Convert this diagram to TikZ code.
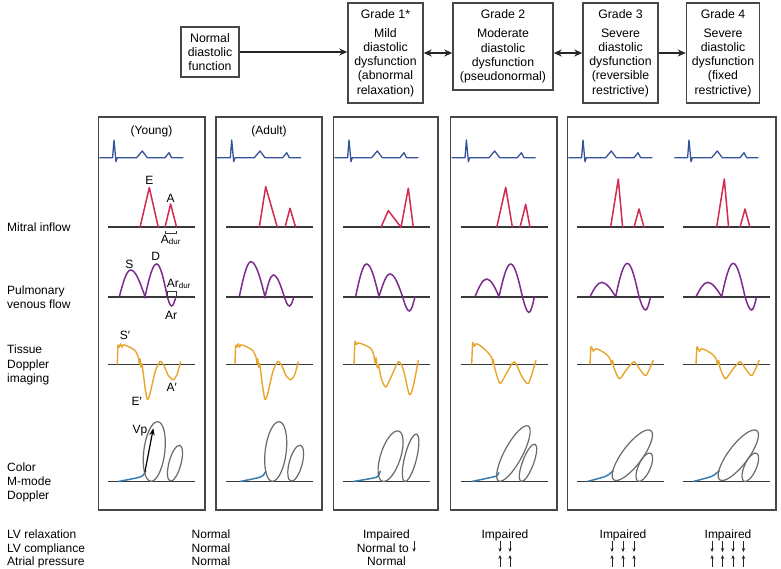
\documentclass[tikz,border=0pt]{standalone}
\usepackage{fontspec}
\setmainfont{Liberation Sans}
\usetikzlibrary{arrows.meta}
\definecolor{ecgc}{HTML}{34539A}
\definecolor{mitc}{HTML}{D42A4F}
\definecolor{pvc}{HTML}{7B2D8B}
\definecolor{tdic}{HTML}{E8A72C}
\definecolor{ellc}{HTML}{6A6A6A}
\definecolor{bluec}{HTML}{3A7DB0}
\definecolor{basec}{HTML}{383838}
\definecolor{framec}{HTML}{474747}
\newcommand\bxf{\fontsize{12.3}{14.3}\selectfont}
\newcommand\lbf{\fontsize{12}{14.3}\selectfont}
\begin{document}
\begin{tikzpicture}[x=1pt,y=-1pt,
  boxfr/.style={draw=framec, line width=1.5pt, inner sep=0pt, align=center, font=\bxf},
  panelfr/.style={draw=framec, line width=1.3pt},
  base/.style={draw=basec, line width=1.8pt},
  ecg/.style={draw=ecgc, line width=1.3pt, line join=round},
  mitral/.style={draw=mitc, line width=1.5pt, line join=round},
  pv/.style={draw=pvc, line width=1.5pt},
  tdi/.style={draw=tdic, line width=1.4pt, line join=round},
  mm/.style={draw=ellc, line width=1.2pt},
  mmblue/.style={draw=bluec, line width=1.5pt},
  lab/.style={font=\lbf, inner sep=0pt},
  side/.style={font=\lbf, inner sep=0pt, align=left, anchor=west},
  tb/.style={font=\lbf, inner sep=0pt, anchor=base},
  brk/.style={draw=basec, line width=0.8pt},
  tarr/.style={draw=black!85, line width=0.75pt, -{Stealth[length=4pt,width=3.4pt]}},
  conn/.style={draw=black!85, line width=1.2pt, -{Stealth[length=8pt,width=7pt]}},
  dconn/.style={draw=black!85, line width=1.2pt, {Stealth[length=8pt,width=7pt]}-{Stealth[length=8pt,width=7pt]}}
]
\useasboundingbox[fill=white] (0,0) rectangle (781,569);

% ---------- top row ----------
\node[boxfr, minimum width=58pt, minimum height=50pt] (normal) at (210,52) {Normal\\diastolic\\function};
\node[boxfr, minimum width=75pt, minimum height=100pt] (g1) at (385.5,53) {Grade 1*\\[4.7pt]Mild\\diastolic\\dysfunction\\(abnormal\\relaxation)};
\node[boxfr, minimum width=100pt, minimum height=87pt] (g2) at (503,46.5) {Grade 2\\[4.7pt]Moderate\\diastolic\\dysfunction\\(pseudonormal)};
\node[boxfr, minimum width=75pt, minimum height=100pt] (g3) at (620.5,53) {Grade 3\\[4.7pt]Severe\\diastolic\\dysfunction\\(reversible\\restrictive)};
\node[boxfr, minimum width=73pt, minimum height=100pt] (g4) at (723,53) {Grade 4\\[4.7pt]Severe\\diastolic\\dysfunction\\(fixed\\restrictive)};
\draw[conn] (normal.east) -- (normal.east -| g1.west);
\draw[dconn] (g1.east) -- (g1.east -| g2.west);
\draw[dconn] (g2.east |- g3.west) -- (g3.west);
\draw[conn] (g3.east) -- (g4.west);

% ---------- panels ----------
\draw[panelfr] (98.3,117) rectangle (205,510);
\draw[panelfr] (216,117) rectangle (322,510);
\draw[panelfr] (333.3,117) rectangle (438,510);
\draw[panelfr] (450.7,117) rectangle (557,510);
\draw[panelfr] (567.3,117) rectangle (776,510);

% ---------- ECG and baselines ----------
\foreach \cx in {98.3,216,333.3,450.7,567.3,673.3}{
  \begin{scope}[shift={(\cx,157.7)}]
    \draw[ecg] (1,0) -- (14.3,0) -- (15.7,-17.7) -- (17.7,4) -- (19,0) -- (38.3,0) -- (44,-6.7) -- (49,0) -- (66.7,0) -- (70.7,-5) -- (73.3,0) -- (85,0);
  \end{scope}
  \draw[base] (\cx+10,227.3) -- (\cx+97,227.3);
  \draw[base] (\cx+10,296.7) -- (\cx+97,296.7);
  \draw[base] (\cx+10,364.5) -- (\cx+97,364.5);
  \draw[base] (\cx+10,481.5) -- (\cx+97,481.5);
}

% ---------- mitral inflow ----------
\begin{scope}[shift={(98.3,227.3)}]
  \draw[mitral] (41.7,0) -- (51,-39.7) -- (60,0);
  \draw[mitral] (66.7,0) -- (72.3,-23.3) -- (78.3,0);
\end{scope}
\begin{scope}[shift={(216,227.3)}]
  \draw[mitral] (43.3,0) -- (49.7,-40.7) -- (61.3,0);
  \draw[mitral] (69,0) -- (74,-19) -- (79.7,0);
\end{scope}
\begin{scope}[shift={(333.3,227.3)}]
  \draw[mitral] (47.7,0) -- (55,-16.7) -- (67.7,0) -- (75,-39) -- (80,0);
\end{scope}
\begin{scope}[shift={(450.7,227.3)}]
  \draw[mitral] (46,0) -- (55,-40) -- (61.7,0);
  \draw[mitral] (69.3,0) -- (75,-23) -- (79.3,0);
\end{scope}
\foreach \cx in {567.3,673.3}{
  \begin{scope}[shift={(\cx,227.3)}]
    \draw[mitral] (43.3,0) -- (51,-48.3) -- (55.3,0);
    \draw[mitral] (66.7,0) -- (71.7,-18.3) -- (76.7,0);
  \end{scope}
}

% ---------- pulmonary venous flow ----------
\begin{scope}[shift={(98.3,296.7)}]
  \draw[pv] (21,0) sin (32.3,-26.7) cos (46.7,0) sin (58.3,-32.7) cos (69,0) sin (73.3,9.3) cos (77.7,0);
\end{scope}
\begin{scope}[shift={(216,296.7)}]
  \draw[pv] (23.3,0) sin (35,-35) cos (49,0) sin (57.3,-21.7) cos (68.3,0) sin (73.3,9.3) cos (78,0);
\end{scope}
\begin{scope}[shift={(333.3,296.7)}]
  \draw[pv] (22.3,0) sin (33.3,-32.7) cos (45.7,0) sin (56.7,-22.7) cos (69.3,0) sin (76,14.3) cos (81.7,0);
\end{scope}
\begin{scope}[shift={(450.7,296.7)}]
  \draw[pv] (24.3,0) sin (36,-17.7) cos (48.3,0) sin (60,-32.7) cos (71.7,0) sin (78.3,15.7) cos (83.7,0);
\end{scope}
\foreach \cx in {567.3,673.3}{
  \begin{scope}[shift={(\cx,296.7)}]
    \draw[pv] (22.7,0) sin (34.3,-14.3) cos (48.3,0) sin (60,-33.3) cos (71.7,0) sin (78.3,13.3) cos (83.3,0);
  \end{scope}
}

% ---------- tissue Doppler ----------
\foreach \cx in {98.3,216}{
  \begin{scope}[shift={(\cx,364.5)}]
    \draw[tdi] plot[smooth, tension=0.4] coordinates {(19,0) (19.7,-19) (21,-17.3) (22.3,-20.7) (23.7,-17.3) (25,-19.7) (30,-18) (36.7,-14) (40,-7.3) (41,-0.7) (41.7,-5.7) (42.7,2.7) (43.7,-0.7) (46.7,22.7) (49,35) (51.7,29.3) (56.7,7.7) (61.7,-3) (65.7,1) (70,11) (75,15.3) (79,9.3) (82.3,-3)};
  \end{scope}
}
\begin{scope}[shift={(333.3,364.5)}]
  \draw[tdi] plot[smooth, tension=0.4] coordinates {(20.7,0) (21.7,-22.7) (23.3,-20) (25,-21.7) (30,-20) (36.7,-16.7) (40,-11.7) (41.7,-1.7) (42.7,-6.7) (44,3.3) (45,0) (48.3,15) (52.3,22.7) (56.7,15) (65,-2.7) (70,5) (76,30) (80,21.7) (85,-4.3)};
\end{scope}
\begin{scope}[shift={(450.7,364.5)}]
  \draw[tdi] plot[smooth, tension=0.4] coordinates {(21,0) (22,-21.7) (23.7,-18.3) (25.3,-20.7) (29.3,-19) (36,-13.3) (41,-6.7) (42,0) (42.7,-5) (43.7,2.3) (49.3,19) (56,8.3) (63.7,-2.7) (71,11.7) (77.7,19) (85.3,-4.3)};
\end{scope}
\foreach \cx in {567.3,673.3}{
  \begin{scope}[shift={(\cx,364.5)}]
    \draw[tdi] plot[smooth, tension=0.4] coordinates {(22.7,0) (23.7,-17.7) (26,-13.3) (28.3,-15.7) (32.7,-14.3) (39.3,-10) (42.7,-5.7) (44.3,0) (45.3,-4.3) (46.7,3.3) (52,14.3) (59.3,5) (66.7,-2.7) (72.7,5) (78.7,11) (86,-4.3)};
  \end{scope}
}

% ---------- color M-mode ----------
\begin{scope}[shift={(98.3,481.5)}]
  \draw[mmblue] plot[smooth] coordinates {(20,0) (40,-4) (45,-6.5) (47.5,-10.5)};
  \draw[mm, rotate around={83:(56,-30)}] (56,-30) ellipse [x radius=30pt, y radius=10.5pt];
  \draw[mm, rotate around={75:(76.7,-18.3)}] (76.7,-18.3) ellipse [x radius=18.5pt, y radius=6pt];
\end{scope}
\begin{scope}[shift={(216,481.5)}]
  \draw[mmblue] plot[smooth] coordinates {(24,0) (43,-4) (47.5,-6.5) (50,-10.5)};
  \draw[mm, rotate around={83:(59.7,-30)}] (59.7,-30) ellipse [x radius=30pt, y radius=10.5pt];
  \draw[mm, rotate around={75:(79.7,-18.3)}] (79.7,-18.3) ellipse [x radius=18.5pt, y radius=6.5pt];
\end{scope}
\begin{scope}[shift={(333.3,481.5)}]
  \draw[mmblue] plot[smooth] coordinates {(20,0) (40,-3.5) (45,-5.7) (47,-10.7)};
  \draw[mm, rotate around={72:(57.3,-25.3)}] (57.3,-25.3) ellipse [x radius=26.4pt, y radius=10pt];
  \draw[mm, rotate around={76:(77.3,-23.7)}] (77.3,-23.7) ellipse [x radius=24.3pt, y radius=6pt];
\end{scope}
\begin{scope}[shift={(450.7,481.5)}]
  \draw[mmblue] plot[smooth] coordinates {(21,0) (40,-4) (46,-5.7) (48.3,-9)};
  \draw[mm, rotate around={61.7:(62.7,-28)}] (62.7,-28) ellipse [x radius=31.2pt, y radius=9pt];
  \draw[mm, rotate around={69.3:(77.3,-18.7)}] (77.3,-18.7) ellipse [x radius=19.9pt, y radius=5.5pt];
\end{scope}
\foreach \cx in {567.3,673.3}{
  \begin{scope}[shift={(\cx,481.5)}]
    \draw[mmblue] plot[smooth] coordinates {(20,0) (38,-5) (43,-8.3) (46,-10.7)};
    \draw[mm, rotate around={53:(65,-26.3)}] (65,-26.3) ellipse [x radius=30.8pt, y radius=10pt];
    \draw[mm, rotate around={66:(77,-14.3)}] (77,-14.3) ellipse [x radius=15.4pt, y radius=6pt];
  \end{scope}
}
\coordinate (vps) at (145,471.5);
\coordinate (vpe) at (153.3,428.3);
\draw[line width=1.2pt, -{Stealth[length=7pt,width=5.5pt]}] (vps) -- (vpe);

% ---------- labels inside panels ----------
\node[lab] (young) at (151.5,131) {(Young)};
\node[lab] (adult) at (269,131) {(Adult)};
\node[lab] (lE) at (149.3,180.7) {E};
\node[lab] (lA) at (170.7,198.3) {A};
\draw[brk] (165,230.7) -- (165,233.3) -- (176.7,233.3) -- (176.7,230.7);
\node[lab] (lAdur) at (171,240) {A\textsubscript{dur}};
\node[lab] (lS) at (129.3,264) {S};
\node[lab] (lD) at (155.7,256.7) {D};
\draw[brk] (167.3,296.7) -- (167.3,291.7) -- (176,291.7) -- (176,296.7);
\node[lab] (lArdur) at (179,284) {Ar\textsubscript{dur}};
\node[lab] (lAr) at (171,315) {Ar};
\node[lab] (lSp) at (125,335) {S′};
\node[lab] (lEp) at (136.7,401.7) {E′};
\node[lab] (lAp) at (171.7,387.3) {A′};
\node[lab] (lVp) at (140,430.7) {Vp};

% ---------- side labels ----------
\node[side] (smi) at (7,227) {Mitral inflow};
\node[side] (spv) at (7,297) {Pulmonary\\venous flow};
\node[side] (std) at (7,365) {Tissue\\Doppler\\imaging};
\node[side] (scm) at (7,482.5) {Color\\M-mode\\Doppler};

% ---------- bottom table ----------
\node[tb, anchor=base west] (r1) at (7,538.5) {LV relaxation};
\node[tb, anchor=base west] (r2) at (7,552) {LV compliance};
\node[tb, anchor=base west] (r3) at (7,565.5) {Atrial pressure};
\node[tb] (n1) at (211,538.5) {Normal};
\node[tb] (n2) at (211,552) {Normal};
\node[tb] (n3) at (211,565.5) {Normal};
\node[tb] (a1) at (386.5,538.5) {Impaired};
\node[tb, anchor=base east] (a2) at (409,552) {Normal to};
\node[tb] (a3) at (386.5,565.5) {Normal};
\node[tb] (b1) at (505,538.5) {Impaired};
\node[tb] (c1) at (623,538.5) {Impaired};
\node[tb] (d1) at (728,538.5) {Impaired};
\foreach \ax in {414}{\draw[tarr] (\ax,540.5) -- (\ax,552);}
\foreach \ax in {500,510,612,623,634,712,722.5,733,743.5}{
  \draw[tarr] (\ax,540.5) -- (\ax,552);
  \draw[tarr] (\ax,566.5) -- (\ax,555);
}
\end{tikzpicture}
\end{document}
